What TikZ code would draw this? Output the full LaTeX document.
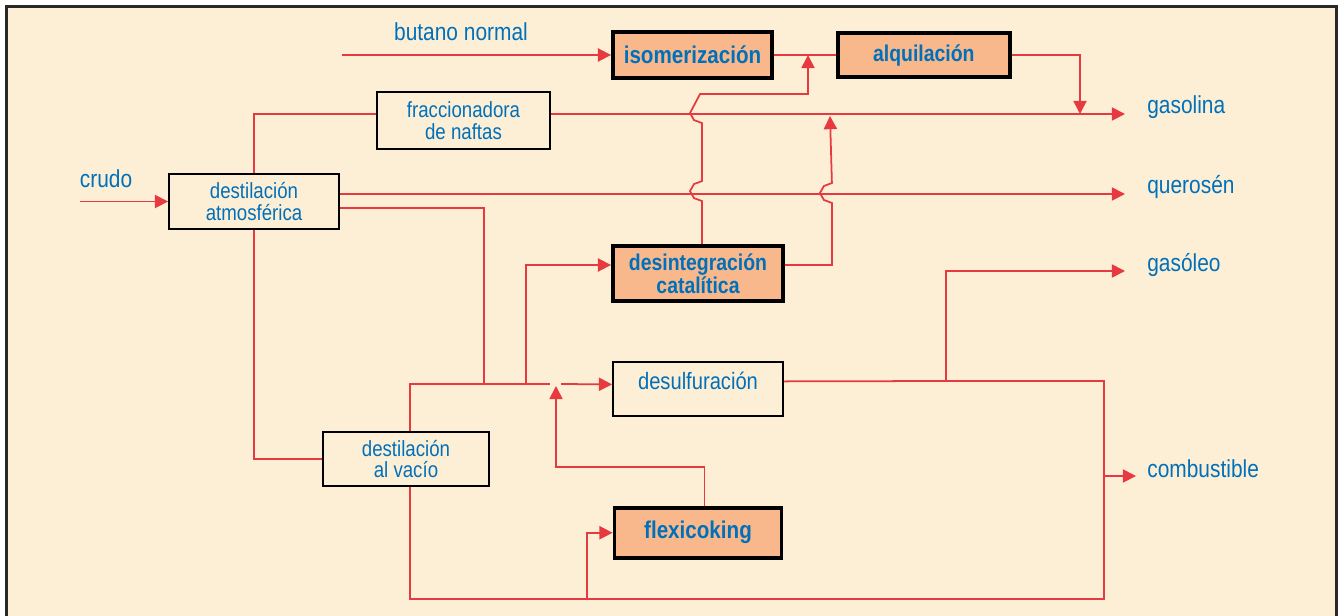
\documentclass[tikz,border=0pt]{standalone}
\usepackage{fontspec}
\setmainfont{Liberation Sans}[FakeStretch=0.85]
\usepackage{tikz}
\usetikzlibrary{arrows.meta, positioning, calc}
\definecolor{mycream}{RGB}{253,239,214}
\definecolor{myred}{RGB}{230,58,64}
\definecolor{myblue}{RGB}{0,112,186}
\definecolor{myorange}{RGB}{248,184,140}
\definecolor{myframe}{RGB}{40,40,40}
\tikzset{
  plainbox/.style={rectangle, draw=black, fill=mycream, text=myblue,
    align=center, inner sep=0pt, line width=1.1pt,
    font=\fontsize{12.5}{12.5}\selectfont},
  keybox/.style={rectangle, draw=black, fill=myorange, text=myblue,
    align=center, inner sep=0pt, line width=2.2pt,
    font=\fontsize{13}{13}\selectfont\bfseries},
  outlabel/.style={text=myblue, anchor=west, inner sep=0pt,
    font=\fontsize{14}{14}\selectfont},
  flowarrow/.style={-{Triangle[length=7.5pt, width=7.5pt]}, line width=1pt, color=myred},
  flowline/.style={line width=1pt, color=myred}
}

\begin{document}
\begin{tikzpicture}[x=0.02cm, y=-0.02cm]
  \useasboundingbox (0,0) rectangle (1338,615);
  \draw[myframe, line width=1.7pt, fill=mycream] (6.5,6.5) rectangle (1336,640);

  % Process units
  \node[plainbox, minimum width=3.4cm, minimum height=1.1cm] (atm) at (254,201.5) {destilación\\atmosférica};
  \node[plainbox, minimum width=3.46cm, minimum height=1.14cm] (fracc) at (463.5,120.5) {fraccionadora\\de naftas};
  \node[plainbox, minimum width=3.32cm, minimum height=1.08cm] (vacio) at (406,459) {destilación\\al vacío};
  \node[keybox, minimum width=3.18cm, minimum height=0.92cm, font=\fontsize{13.8}{13.8}\selectfont\bfseries] (isom) at (692.5,55) {isomerización};
  \node[keybox, minimum width=3.44cm, minimum height=0.88cm, right=1.24cm of isom] (alq) {alquilación};
  \node[keybox, minimum width=3.4cm, minimum height=1.1cm] (desint) at (698,273.5) {desintegración\\catalítica};
  \node[plainbox, minimum width=3.4cm, minimum height=1.08cm, text height=0.32cm, text depth=0.28cm,
    font=\fontsize{13.5}{13.5}\selectfont, below=1.16cm of desint] (desulf) {desulfuración};
  \node[keybox, minimum width=3.34cm, minimum height=1.0cm, font=\fontsize{13.8}{13.8}\selectfont\bfseries,
    below=1.78cm of desulf] (flexi) {flexicoking};

  % Feeds and products
  \node[outlabel, anchor=center] (butano) at (461,32) {butano normal};
  \node[outlabel, anchor=center] (crudo) at (106,179) {crudo};
  \node[outlabel] (gasolina) at (1147,107) {gasolina};
  \node[outlabel] (queroseno) at (1147,187) {querosén};
  \node[outlabel] (gasoleo) at (1147,265) {gasóleo};
  \node[outlabel] (combust) at (1147,469) {combustible};

  % Junctions and free ends
  \coordinate (butanoin) at (342,55);
  \coordinate (crudoin) at (80,201.5);
  \coordinate (gend) at ($(gasolina.west)+(-22,7)$);
  \coordinate (qend) at ($(queroseno.west)+(-22,7)$);
  \coordinate (gsend) at ($(gasoleo.west)+(-22,6)$);
  \coordinate (cend) at ($(combust.west)+(-11,7)$);
  \coordinate (jiso) at ($(isom.east)!0.55!(alq.west)$);
  \coordinate (jcatgas) at (830,116);
  \coordinate (jalqgas) at (1080,114);
  \coordinate (dlin) at ([yshift=0.09cm]desulf.west);
  \coordinate (jatm) at (484,384);
  \coordinate (jcat) at (526,384);
  \coordinate (gapL) at (550,384);
  \coordinate (gapR) at (561,384);
  \coordinate (jflxd) at (556,386);
  \coordinate (jgsl) at (946,381);
  \coordinate (bottomR) at (1104,599);
  \coordinate (jflx) at (587,599);

  % Top section
  \draw[flowarrow] (butanoin) -- (isom.west);
  \draw[flowarrow] (crudoin) -- (atm.west);
  \draw[flowline] (isom.east) -- (alq.west);
  \draw[flowline] (atm.north) |- (fracc.west |- gend);
  \draw[flowarrow] (fracc.east |- gend) -- (gend);
  \draw[flowarrow] (atm.east |- qend) -- (qend);
  \draw[flowarrow] (alq.east) -| (jalqgas);

  % Cracking outlets, jumping over the product lines
  \draw[flowarrow] ([xshift=0.08cm]desint.north) -- ++(0,-43) -- ++(-8,-3) -- ++(-4,-7) -- ++(4,-7) -- ++(8,-3)
    -- ++(0,-58) -- ++(-8,-3) -- ++(-4,-7) -- ++(10,-19) -| (jiso);
  \draw[flowarrow] ([yshift=0.17cm]desint.east) -- ++(47,0) -- ++(0,-62) -- ++(-8,-3) -- ++(-4,-7) -- ++(4,-7)
    -- ++(8,-3) -- (jcatgas);

  % Middle section
  \draw[flowline] ([yshift=-0.13cm]atm.east) -| (jatm);
  \draw[flowline] (atm.south) |- (vacio.west);
  \draw[flowline] ([xshift=0.08cm]vacio.north) |- (gapL);
  \draw[flowarrow] (gapR) -- (dlin);
  \draw[flowarrow] (jcat) |- ([yshift=0.17cm]desint.west);
  \draw[flowline] ([yshift=0.15cm]desulf.east) -- (jgsl);
  \draw[flowarrow] (jgsl) |- (gsend);

  % Bottom loop
  \draw[flowline] ([xshift=0.08cm]vacio.south) |- (bottomR) |- (jgsl);
  \draw[flowarrow] (bottomR |- cend) -- (cend);
  \draw[flowarrow] (jflx) |- (flexi.west);
  \draw[flowarrow] ([xshift=0.13cm]flexi.north) -- ++(0,-39) -| (jflxd);
\end{tikzpicture}
\end{document}
